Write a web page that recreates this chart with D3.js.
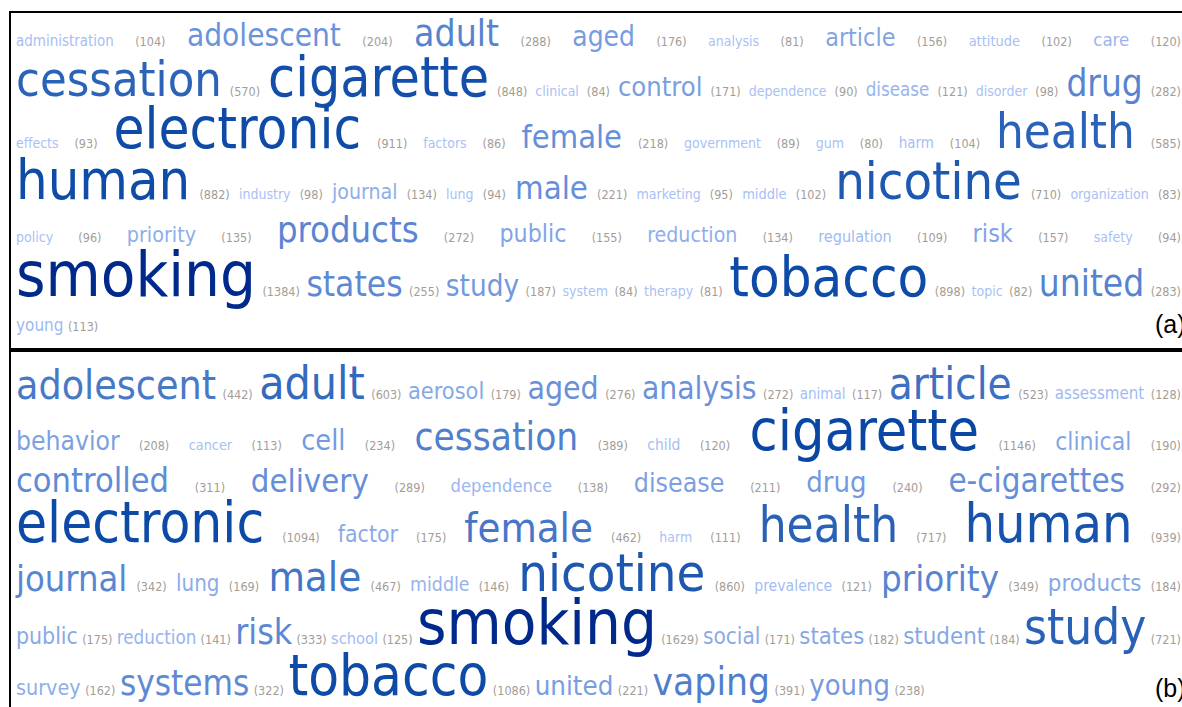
<!DOCTYPE html>
<html>
<head>
<meta charset="utf-8">
<script src="https://cdn.jsdelivr.net/npm/d3@7"></script>
<style>
  body { margin: 0; background: #fff; }
  .term, .count { font-family: "DejaVu Sans Condensed", "DejaVu Sans", sans-serif; font-stretch: condensed; }
  .tag { font-family: "Liberation Sans", Arial, sans-serif; }
</style>
</head>
<body>
<script>
// ---- data: one inner array per line of each cloud ----
var termsA = [
  ["administration", "adolescent", "adult", "aged", "analysis", "article", "attitude", "care"],
  ["cessation", "cigarette", "clinical", "control", "dependence", "disease", "disorder", "drug"],
  ["effects", "electronic", "factors", "female", "government", "gum", "harm", "health"],
  ["human", "industry", "journal", "lung", "male", "marketing", "middle", "nicotine", "organization"],
  ["policy", "priority", "products", "public", "reduction", "regulation", "risk", "safety"],
  ["smoking", "states", "study", "system", "therapy", "tobacco", "topic", "united"],
  ["young"]
];
var countsA = [
  [104, 204, 288, 176, 81, 156, 102, 120],
  [570, 848, 84, 171, 90, 121, 98, 282],
  [93, 911, 86, 218, 89, 80, 104, 585],
  [882, 98, 134, 94, 221, 95, 102, 710, 83],
  [96, 135, 272, 155, 134, 109, 157, 94],
  [1384, 255, 187, 84, 81, 898, 82, 283],
  [113]
];

var termsB = [
  ["adolescent", "adult", "aerosol", "aged", "analysis", "animal", "article", "assessment"],
  ["behavior", "cancer", "cell", "cessation", "child", "cigarette", "clinical"],
  ["controlled", "delivery", "dependence", "disease", "drug", "e-cigarettes"],
  ["electronic", "factor", "female", "harm", "health", "human"],
  ["journal", "lung", "male", "middle", "nicotine", "prevalence", "priority", "products"],
  ["public", "reduction", "risk", "school", "smoking", "social", "states", "student", "study"],
  ["survey", "systems", "tobacco", "united", "vaping", "young"]
];
var countsB = [
  [442, 603, 179, 276, 272, 117, 523, 128],
  [208, 113, 234, 389, 120, 1146, 190],
  [311, 289, 138, 211, 240, 292],
  [1094, 175, 462, 111, 717, 939],
  [342, 169, 467, 146, 860, 121, 349, 184],
  [175, 141, 333, 125, 1629, 171, 182, 184, 721],
  [162, 322, 1086, 221, 391, 238]
];

var panelLabels = ["(a)", "(b)"];

// ---- layout ----
var W = 1182, H = 707;
var left = 16, right = 1181;
var minFont = 14, maxFont = 63;

var svg = d3.select("body").append("svg")
    .attr("width", W)
    .attr("height", H);

// frame: left edge, top edge, divider between the two clouds
svg.append("rect").attr("x", 9).attr("y", 11).attr("width", 2).attr("height", H).attr("fill", "#000");
svg.append("rect").attr("x", 9).attr("y", 11).attr("width", W).attr("height", 2).attr("fill", "#000");
svg.append("rect").attr("x", 9).attr("y", 348).attr("width", W).attr("height", 4).attr("fill", "#000");

// colour follows the font size: light periwinkle for rare terms, navy for the most frequent
var shade = d3.scaleLinear()
    .domain([0, 0.35, 0.68, 0.87, 1])
    .range(["#a9c1f5", "#6b93dc", "#2f66bb", "#0b49a6", "#00298c"]);

function drawCloud(terms, counts, startY, lead, knee, kneeFont, label) {
  var all = d3.merge(counts);
  var lo = d3.min(all), hi = d3.max(all);

  // rare terms bottom out at the smallest size; the curve flattens past the knee
  var size = d3.scaleLog()
      .domain([Math.max(lo, 100), knee, hi])
      .range([minFont, kneeFont, maxFont])
      .clamp(true);
  var color = function(c) { return shade((size(c) - minFont) / (maxFont - minFont)); };

  var g = svg.append("g");
  var y = startY;

  terms.forEach(function(row, r) {
    var maxSize = d3.max(counts[r], function(c) { return size(c); });
    y = y + lead + 0.4 * maxSize;

    var line = g.append("g");
    var tokens = [];
    row.forEach(function(t, i) {
      var c = counts[r][i];
      tokens.push(line.append("text")
          .attr("class", "term")
          .attr("y", y)
          .attr("font-size", size(c))
          .attr("fill", color(c))
          .text(t));
      tokens.push(line.append("text")
          .attr("class", "count")
          .attr("y", y)
          .attr("font-size", 12.5)
          .attr("fill", "#a39d97")
          .text("(" + c + ")"));
    });

    // justify every line but the last one
    var widths = tokens.map(function(t) { return t.node().getComputedTextLength(); });
    var total = d3.sum(widths);
    var isLast = r === terms.length - 1;
    var gap = isLast ? 4.5 : (right - left - total) / (tokens.length - 1);

    var x = left;
    tokens.forEach(function(t, i) {
      t.attr("x", x);
      x += widths[i] + gap;
    });
  });

  svg.append("text")
      .attr("class", "tag")
      .attr("x", 1155)
      .attr("y", y + 2)
      .attr("font-size", 25)
      .attr("fill", "#000")
      .text(label);
}

drawCloud(termsA, countsA, 2, 28.8, 200, 31, panelLabels[0]);
drawCloud(termsB, countsB, 353, 28, 400, 39, panelLabels[1]);
</script>
</body>
</html>
